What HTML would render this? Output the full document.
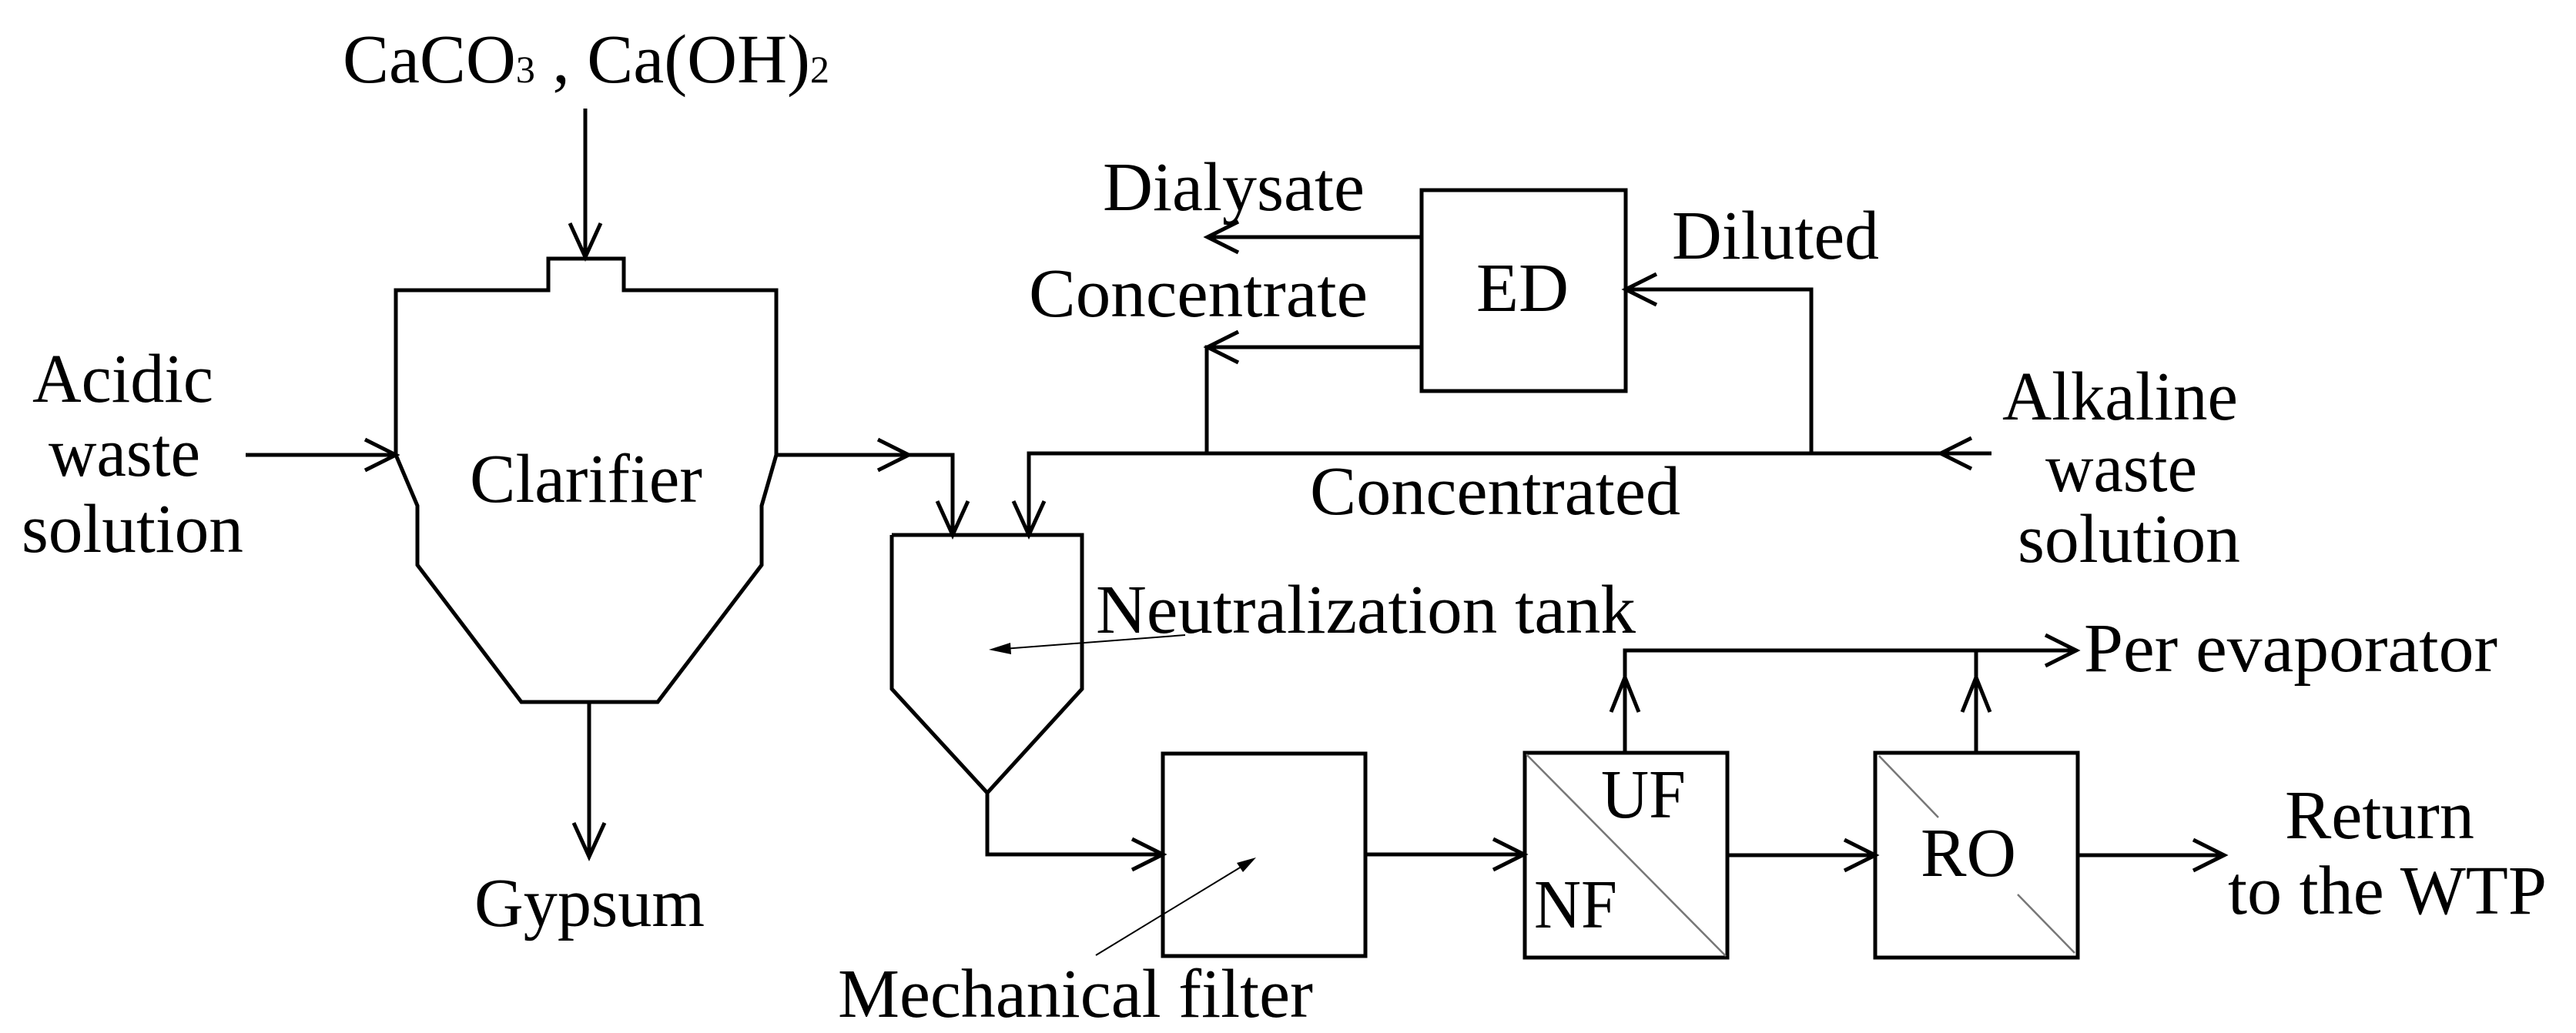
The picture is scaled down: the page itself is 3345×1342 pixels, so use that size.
<!DOCTYPE html>
<html><head><meta charset="utf-8"><style>
html,body{margin:0;padding:0;background:#fff;}
svg{display:block;}
text{font-family:"Liberation Serif",serif;fill:#000;font-size:90px;}
</style></head><body>
<svg width="3345" height="1342" viewBox="0 0 3345 1342" xmlns="http://www.w3.org/2000/svg">
<rect width="3345" height="1342" fill="#fff"/>
<g fill="none" stroke="#000" stroke-width="5" stroke-linejoin="miter">
<polyline points="514,591 514,377 712,377 712,336 810,336 810,377 1008,377 1008,591 989,657 989,734 854,912 677,912 542,734 542,657 514,591"/>
<line x1="760" y1="141" x2="760" y2="334"/><polyline points="740,290 760,334 780,290"/>
<line x1="319" y1="591" x2="514" y2="591"/><polyline points="474,571 514,591 474,611"/>
<line x1="765" y1="914" x2="765" y2="1113"/><polyline points="745,1069 765,1113 785,1069"/>
<polyline points="1008,591 1237,591 1237,695"/><polyline points="1140,571 1180,591 1140,611"/><polyline points="1217,651 1237,695 1257,651"/>
<polyline points="1336,695 1336,589 2586,589"/><polyline points="1316,651 1336,695 1356,651"/><polyline points="2560,569 2520,589 2560,609"/>
<polyline points="1158,695 1405,695 1405,895 1282,1030 1158,895 1158,695"/>
<polyline points="1282,1030 1282,1110 1510,1110"/><polyline points="1470,1090 1510,1110 1470,1130"/>
<rect x="1846" y="247" width="265" height="261"/>
<line x1="1846" y1="308" x2="1568" y2="308"/><polyline points="1608,288 1568,308 1608,328"/>
<polyline points="1846,451 1567,451 1567,589"/><polyline points="1608,431 1568,451 1608,471"/>
<polyline points="2352,589 2352,376 2111,376"/><polyline points="2151,356 2111,376 2151,396"/>
<rect x="1510" y="979" width="263" height="263"/>
<line x1="1773" y1="1110" x2="1979" y2="1110"/><polyline points="1939,1090 1979,1110 1939,1130"/>
<rect x="1980" y="978" width="263" height="266"/>
<line x1="2243" y1="1111" x2="2435" y2="1111"/><polyline points="2395,1091 2435,1111 2395,1131"/>
<rect x="2435" y="978" width="263" height="266"/>
<line x1="2698" y1="1111" x2="2888" y2="1111"/><polyline points="2848,1091 2888,1111 2848,1131"/>
<polyline points="2110,978 2110,845 2696,845"/><line x1="2566" y1="978" x2="2566" y2="845"/>
<polyline points="2656,825 2696,845 2656,865"/>
<polyline points="2092,925 2110,880 2128,925"/><polyline points="2548,925 2566,880 2584,925"/>
</g>
<g stroke="#777" stroke-width="2.5" fill="none">
<line x1="1982" y1="980" x2="2241" y2="1242"/>
<line x1="2440" y1="982" x2="2517" y2="1062"/>
<line x1="2620" y1="1162" x2="2694" y2="1238"/>
</g>
<g stroke="#000" stroke-width="2" fill="none">
<line x1="1539" y1="825" x2="1290" y2="844"/>
<line x1="1423" y1="1241" x2="1625" y2="1118"/>
</g>
<polygon points="1284,844 1312,835 1313,850" fill="#000"/>
<polygon points="1631,1114 1606,1121 1614,1133" fill="#000"/>

<text x="445" y="107" textLength="632" lengthAdjust="spacingAndGlyphs">CaCO<tspan font-size="50">3</tspan> , Ca(OH)<tspan font-size="50">2</tspan></text>
<text x="42" y="522" textLength="235" lengthAdjust="spacingAndGlyphs">Acidic</text>
<text x="63" y="618" textLength="197" lengthAdjust="spacingAndGlyphs">waste</text>
<text x="28" y="717" textLength="288" lengthAdjust="spacingAndGlyphs">solution</text>
<text x="610" y="652" textLength="302" lengthAdjust="spacingAndGlyphs">Clarifier</text>
<text x="616" y="1203" textLength="299" lengthAdjust="spacingAndGlyphs">Gypsum</text>
<text x="1432" y="273" textLength="340" lengthAdjust="spacingAndGlyphs">Dialysate</text>
<text x="1336" y="411" textLength="440" lengthAdjust="spacingAndGlyphs">Concentrate</text>
<text x="1917" y="404" textLength="120" lengthAdjust="spacingAndGlyphs">ED</text>
<text x="2171" y="336" textLength="269" lengthAdjust="spacingAndGlyphs">Diluted</text>
<text x="1701" y="668" textLength="481" lengthAdjust="spacingAndGlyphs">Concentrated</text>
<text x="2600" y="545" textLength="306" lengthAdjust="spacingAndGlyphs">Alkaline</text>
<text x="2656" y="638" textLength="197" lengthAdjust="spacingAndGlyphs">waste</text>
<text x="2620" y="730" textLength="289" lengthAdjust="spacingAndGlyphs">solution</text>
<text x="1423" y="822" textLength="701" lengthAdjust="spacingAndGlyphs">Neutralization tank</text>
<text x="1088" y="1321" textLength="617" lengthAdjust="spacingAndGlyphs">Mechanical filter</text>
<text x="2079" y="1062" textLength="110" lengthAdjust="spacingAndGlyphs">UF</text>
<text x="1992" y="1205" textLength="108" lengthAdjust="spacingAndGlyphs">NF</text>
<text x="2494" y="1138" textLength="124" lengthAdjust="spacingAndGlyphs">RO</text>
<text x="2706" y="872" textLength="537" lengthAdjust="spacingAndGlyphs">Per evaporator</text>
<text x="2967" y="1089" textLength="246" lengthAdjust="spacingAndGlyphs">Return</text>
<text x="2893" y="1187" textLength="414" lengthAdjust="spacingAndGlyphs">to the WTP</text>
</svg>
</body></html>
